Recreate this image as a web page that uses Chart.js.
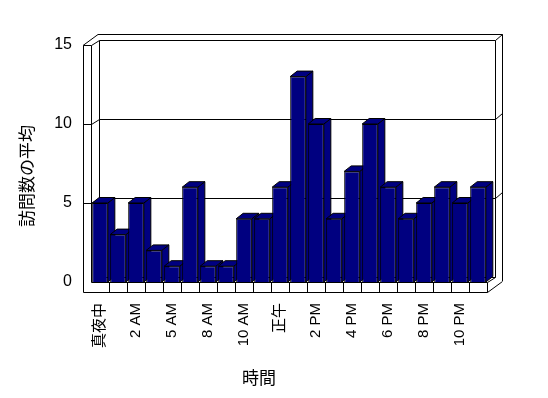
<!DOCTYPE html>
<html>
<head>
<meta charset="utf-8">
<style>
  html, body { margin: 0; padding: 0; background: #fff; }
  #wrap { width: 548px; height: 398px; }
</style>
<script src="https://cdn.jsdelivr.net/npm/chart.js@4.4.1/dist/chart.umd.min.js"></script>
</head>
<body>
<div id="wrap"><canvas id="chart" width="548" height="398"></canvas></div>
<script>
// DATA
const hours = ['真夜中', '1 AM', '2 AM', '4 AM', '5 AM', '6 AM', '8 AM', '9 AM', '10 AM', '11 AM', '正午',
    '1 PM', '2 PM', '3 PM', '4 PM', '5 PM', '6 PM', '7 PM', '8 PM', '9 PM', '10 PM', '11 PM'];
const visits = [5, 3, 5, 2, 1, 6, 1, 1, 4, 4, 6, 13, 10, 4, 7, 10, 6, 4, 5, 6, 5, 6];
const yTicks = [0, 5, 10, 15];
const yTitle = '訪問数の平均';
const xTitle = '時間';

const FONT = "'Liberation Sans', Arial, 'Noto Sans CJK JP', sans-serif";
const JP_FONT = "'Noto Sans CJK JP', sans-serif";
const NAVY = '#000080';

// depth offsets (wall / bar)
const DX = 7.5, DY = -5.5;
const BDX = 7, BDY = -5.5;

const px = v => Math.round(v) + 0.5;

function path(ctx, pts, close) {
    ctx.beginPath();
    pts.forEach((p, i) => i ? ctx.lineTo(p[0], p[1]) : ctx.moveTo(p[0], p[1]));
    if (close) ctx.closePath();
}

function line(ctx, pts) {
    path(ctx, pts, false);
    ctx.stroke();
}

// 1. walls, floor, gridlines, then bar sides/tops
const box3d = {
    id: 'box3d',
    beforeDatasetsDraw(chart) {
        const { ctx, chartArea: a, scales: { x, y } } = chart;
        const L = a.left, R = a.right, T = a.top, B = a.bottom;
        const wallL = L - 8, floorB = B + 10;

        ctx.save();
        ctx.strokeStyle = '#000';
        ctx.lineWidth = 1;

        // back wall (inner face)
        line(ctx, [[px(L + DX), px(B + DY)], [px(L + DX), px(T + DY)], [px(R + DX), px(T + DY)], [px(R + DX), px(B + DY)]]);
        line(ctx, [[px(L + DX), px(B + DY)], [px(R + DX), px(B + DY)]]);
        // outer edge top / right
        line(ctx, [[wallL, px(T)], [wallL + 2 * DX, px(T + 2 * DY)], [px(R + 2 * DX), px(T + 2 * DY)], [px(R + 2 * DX), floorB + 2 * DY]]);
        line(ctx, [[px(R + DX), px(T + DY)], [px(R + 2 * DX), px(T + 2 * DY)]]);

        // left wall
        line(ctx, [[px(wallL), px(T)], [px(wallL), px(floorB)]]);
        line(ctx, [[px(L), px(T)], [px(L), px(B)]]);
        line(ctx, [[px(wallL), px(T)], [px(L), px(T)]]);
        line(ctx, [[px(L), px(T)], [px(L + DX), px(T + DY)]]);

        // gridlines wrapped round the walls
        yTicks.filter(v => v > 0 && v < 15).forEach(v => {
            const yv = y.getPixelForValue(v);
            line(ctx, [[px(wallL), px(yv)], [px(L), px(yv)]]);
            line(ctx, [[px(L), px(yv)], [px(L + DX), px(yv + DY)], [px(R + DX), px(yv + DY)], [px(R + 2 * DX), px(yv + 2 * DY)]]);
        });

        // floor slab
        line(ctx, [[px(L), px(B)], [px(R), px(B)], [px(R + DX), px(B + DY)]]);
        line(ctx, [[px(wallL), px(floorB)], [px(R), px(floorB)], [px(R + 2 * DX), px(floorB + 2 * DY)]]);
        line(ctx, [[px(R), px(B)], [px(R), px(floorB)]]);
        // category ticks on the floor edge
        for (let i = 1; i < hours.length; i++) {
            const xb = (x.getPixelForValue(i - 1) + x.getPixelForValue(i)) / 2;
            line(ctx, [[px(xb), px(B)], [px(xb), px(floorB)]]);
        }

        // bar sides and tops
        const meta = chart.getDatasetMeta(0);
        ctx.fillStyle = NAVY;
        meta.data.forEach(bar => {
            const { x: cx, y: top, base, width } = bar.getProps(['x', 'y', 'base', 'width'], true);
            const l = cx - width / 2, r = cx + width / 2;
            path(ctx, [[r, top], [r + BDX, top + BDY], [r + BDX, base + BDY], [r, base]], true);
            ctx.fill(); ctx.stroke();
            path(ctx, [[l, top], [l + BDX, top + BDY], [r + BDX, top + BDY], [r, top]], true);
            ctx.fill(); ctx.stroke();
        });
        ctx.restore();
    },
    afterDraw(chart) {
        const ctx = chart.ctx;
        ctx.save();
        ctx.fillStyle = '#000';
        ctx.font = '17px ' + JP_FONT;
        ctx.textAlign = 'center';
        ctx.textBaseline = 'middle';
        ctx.fillText(xTitle, 259, 378);
        ctx.translate(27, 176);
        ctx.rotate(-Math.PI / 2);
        ctx.fillText(yTitle, 0, 0);
        ctx.restore();
    }
};

// 2. chart
function initChart() {
    const ctx = document.getElementById('chart');
    new Chart(ctx, {
        type: 'bar',
        data: {
            labels: hours,
            datasets: [{
                data: visits,
                backgroundColor: NAVY,
                borderColor: '#000',
                borderWidth: 1,
                barPercentage: 0.87,
                categoryPercentage: 1
            }]
        },
        options: {
            responsive: false,
            animation: false,
            devicePixelRatio: 1,
            layout: { padding: { top: 45, right: 61, left: 0, bottom: 0 } },
            plugins: { legend: { display: false }, tooltip: { enabled: false } },
            scales: {
                x: {
                    grid: { display: false, drawTicks: false },
                    border: { display: false },
                    afterFit: s => { s.height = 116; },
                    ticks: {
                        autoSkip: false,
                        minRotation: 90,
                        maxRotation: 90,
                        padding: 21,
                        color: '#000',
                        font: { family: FONT, size: 15 },
                        callback: (v, i) => i % 2 === 0 ? hours[i] : ''
                    }
                },
                y: {
                    min: 0,
                    max: 15,
                    grid: { display: false, drawTicks: false },
                    border: { display: false },
                    afterFit: s => { s.width = 91; },
                    afterBuildTicks: s => { s.ticks = yTicks.map(v => ({ value: v })); },
                    ticks: {
                        padding: 19,
                        color: '#000',
                        font: { family: FONT, size: 16 }
                    }
                }
            }
        },
        plugins: [box3d]
    });
}

document.addEventListener('DOMContentLoaded', initChart);
</script>
</body>
</html>
